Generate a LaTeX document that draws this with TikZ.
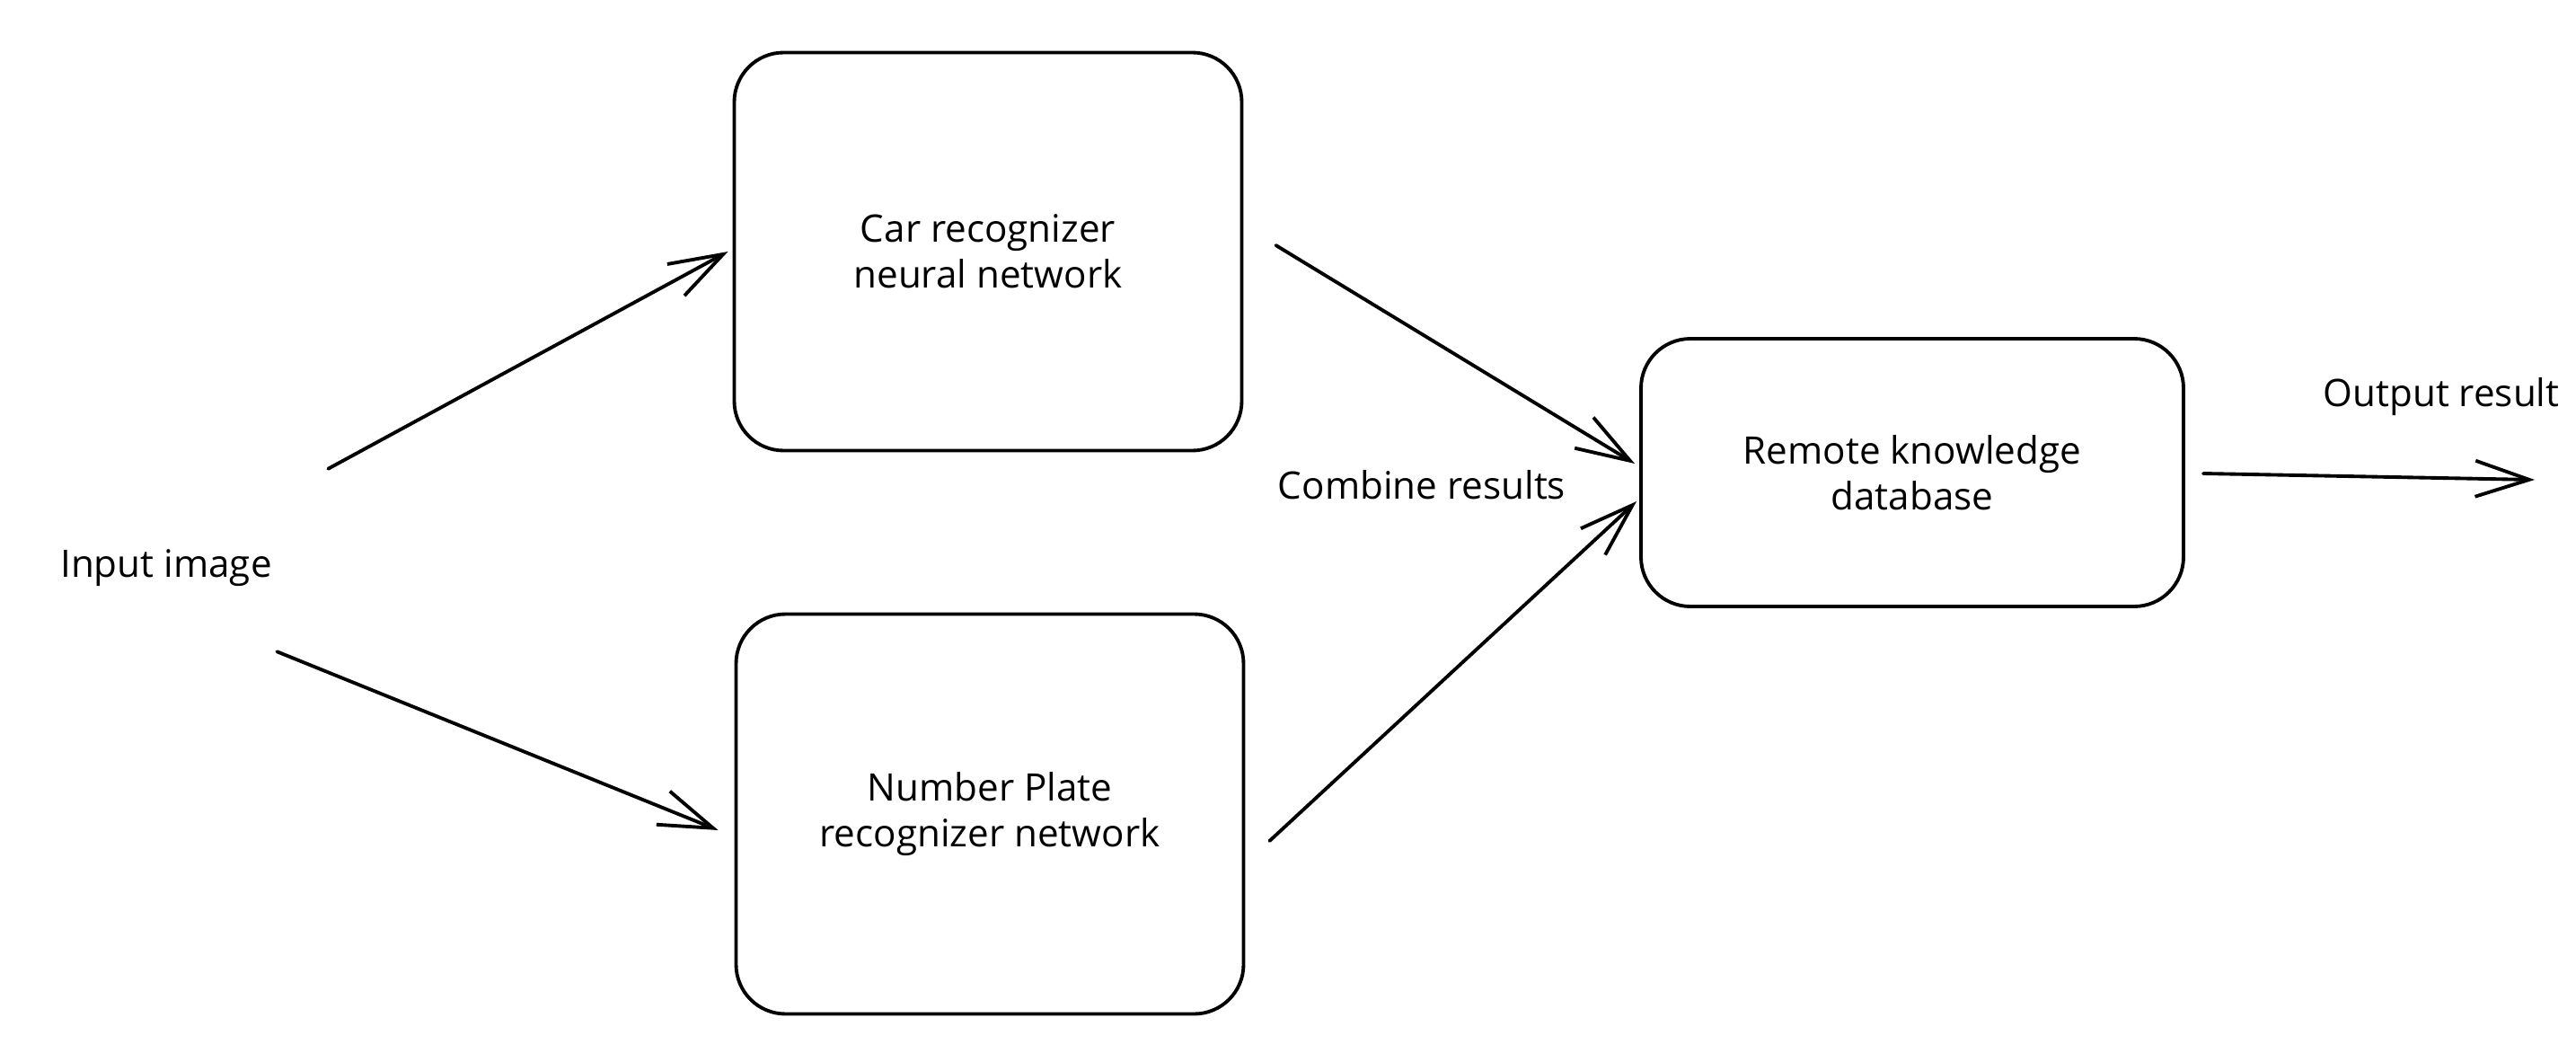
\documentclass[tikz,border=0pt]{standalone}
\usepackage{fontspec}
\setmainfont{Open Sans}
\usetikzlibrary{arrows.meta}
\begin{document}
\begin{tikzpicture}[
  x=1cm,y=1cm,
  every node/.style={font=\fontsize{12}{14.5}\selectfont, align=center},
  proc/.style={draw, line width=1.1pt, rounded corners=0.55cm, inner sep=0pt},
  lbl/.style={inner sep=0pt},
  conn/.style={line width=1.1pt, line cap=round, -{Straight Barb[length=6mm,width=4mm,line width=1.1pt]}}
]
\useasboundingbox (0,0) rectangle (28.68,-11.72);
% boxes
\node[proc, minimum width=5.65cm, minimum height=4.43cm] (car) at (11.00,-2.80) {Car recognizer\\neural network};
\node[proc, minimum width=5.65cm, minimum height=4.45cm] (plate) at (11.02,-9.06) {Number Plate\\recognizer network};
\node[proc, minimum width=6.04cm, minimum height=2.98cm] (db) at (21.29,-5.26) {Remote knowledge\\database};
% labels
\node[lbl] (input) at (1.85,-6.32) {Input image};
\node[lbl] (combine) at (15.83,-5.40) {Combine results};
\node[lbl] (output) at (27.18,-4.42) {Output result};
% free end
\coordinate (outend) at (28.22,-5.34);
% connectors
\draw[conn] ([shift={(0.62,0.89)}]input.north east) -- ([shift={(-0.05,0)}]car.west);
\draw[conn] ([shift={(0.05,-0.72)}]input.south east) -- ([shift={(-0.18,-0.18)}]plate.west);
\draw[conn] ([shift={(0.36,0.07)}]car.east) -- ([shift={(-0.05,0.10)}]db.west);
\draw[conn] ([shift={(0.27,-0.30)}]plate.east) -- ([shift={(-0.03,-0.32)}]db.west);
\draw[conn] ([shift={(0.20,-0.01)}]db.east) -- (outend);
\end{tikzpicture}
\end{document}
